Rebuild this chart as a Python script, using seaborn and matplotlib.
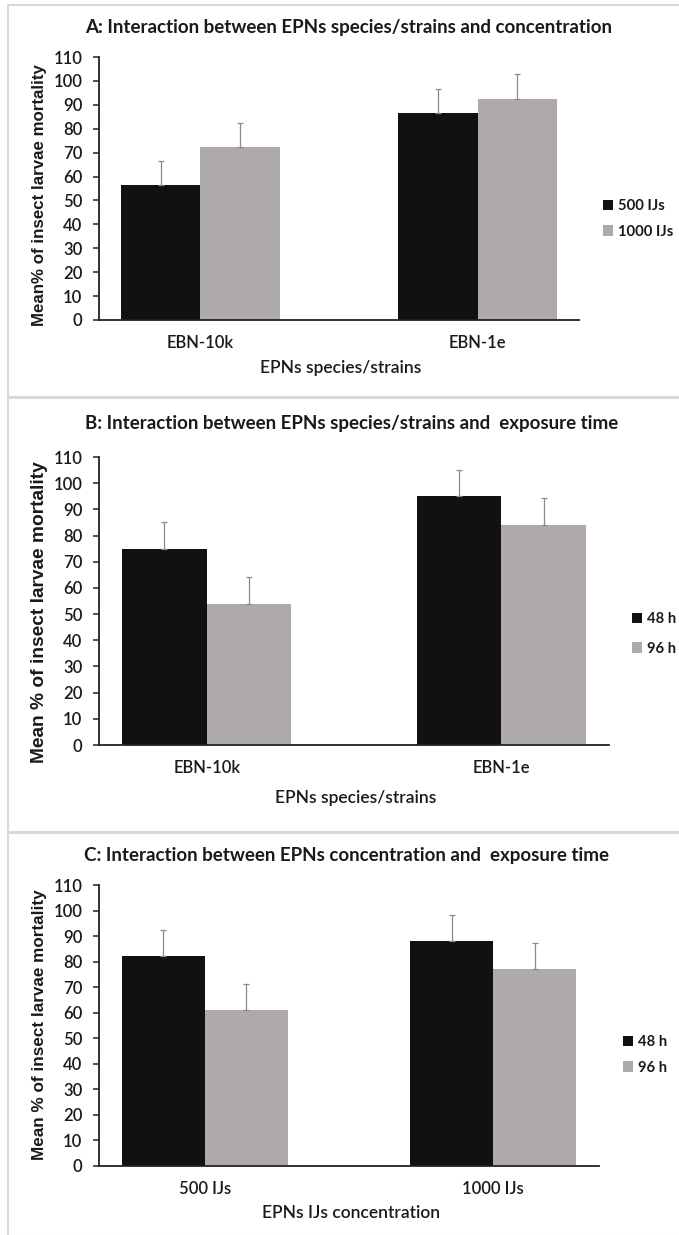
import numpy as np
import pandas as pd
import matplotlib
matplotlib.use("Agg")
import matplotlib.pyplot as plt
from matplotlib.patches import Rectangle, Patch
import seaborn as sns

# data
strains = ["EBN-10k", "EBN-1e"]
concentrations = ["500 IJs", "1000 IJs"]
times = ["48 h", "96 h"]

a_500 = [56.5, 86.5]
a_1000 = [72.2, 92.5]
a_err_500 = [10.2, 10.2]
a_err_1000 = [10.2, 10.5]

b_48 = [75.0, 95.1]
b_96 = [53.9, 84.0]
b_err_48 = [10.0, 10.0]
b_err_96 = [10.3, 10.2]

c_48 = [82.3, 88.2]
c_96 = [61.1, 77.2]
c_err_48 = [10.2, 9.9]
c_err_96 = [10.1, 10.2]

W, H = 679, 1235
BLACK = "#111111"
GREY = "#aeaaaa"
TXT = "#1a1a1a"

sns.set_theme(style="white")
plt.rcParams["font.family"] = ["Lato", "DejaVu Sans"]


def make_df(groups, levels, v1, v2, e1, e2):
    return pd.DataFrame({
        "group": groups * 2,
        "series": [levels[0]] * len(groups) + [levels[1]] * len(groups),
        "value": v1 + v2,
        "err": e1 + e2,
    })


def add_axes_px(fig, x0, x1, ytop, ybot):
    return fig.add_axes([x0 / W, 1 - ybot / H, (x1 - x0) / W, (ybot - ytop) / H])


def draw_panel(fig, ax, df, groups, levels, title, title_xy, ylabel, ylab_xy,
               ylab_size, xlabel, xlab_xy, leg_xy, leg_space):
    sns.barplot(data=df, x="group", y="value", hue="series", order=groups,
                hue_order=levels, palette=[BLACK, GREY], saturation=1,
                width=0.575, errorbar=None, legend=False, linewidth=0, ax=ax)
    for cont, lev in zip(ax.containers, levels):
        sub = df[df["series"] == lev].set_index("group").loc[groups]
        xs = [b.get_x() + b.get_width() / 2 for b in cont]
        ax.errorbar(xs, sub["value"], yerr=[np.zeros(len(xs)), sub["err"]],
                    fmt="none", ecolor="#8a8a8a", elinewidth=0.9,
                    capsize=2.5, capthick=0.9, zorder=3)
    ax.set_ylim(0, 110)
    ax.set_yticks(range(0, 111, 10))
    ax.set_xlabel("")
    ax.set_ylabel("")
    sns.despine(ax=ax)
    for s in ["left", "bottom"]:
        ax.spines[s].set_color("#222222")
        ax.spines[s].set_linewidth(1.3)
    ax.tick_params(axis="y", left=True, length=4, width=1.1, color="#222222",
                   pad=8, labelsize=12, labelcolor=TXT)
    ax.tick_params(axis="x", bottom=False, length=0, pad=11, labelsize=12,
                   labelcolor=TXT)
    for lab in ax.get_xticklabels() + ax.get_yticklabels():
        lab.set_fontweight("semibold")

    fig.text(title_xy[0] / W, 1 - title_xy[1] / H, title, ha="center",
             va="center", fontsize=13.5, fontweight="bold", color=TXT)
    fig.text(ylab_xy[0] / W, 1 - ylab_xy[1] / H, ylabel, ha="center",
             va="center", rotation=90, fontsize=ylab_size, fontweight="bold",
             family=["Liberation Sans", "DejaVu Sans"], color=TXT)
    fig.text(xlab_xy[0] / W, 1 - xlab_xy[1] / H, xlabel, ha="center",
             va="center", fontsize=12.5, fontweight="semibold", color=TXT)

    handles = [Patch(facecolor=BLACK, edgecolor="none"),
               Patch(facecolor=GREY, edgecolor="none")]
    fig.legend(handles, levels, loc="center left",
               bbox_to_anchor=(leg_xy[0] / W, 1 - leg_xy[1] / H),
               frameon=False, borderpad=0, borderaxespad=0,
               handlelength=0.7, handleheight=0.7, handletextpad=0.3,
               labelspacing=leg_space,
               prop={"size": 10.6, "weight": "bold"}, labelcolor=TXT)


fig = plt.figure(figsize=(W / 100, H / 100), dpi=100)

# panel frames
for y0, y1 in [(5, 397), (398, 832), (833, 1236)]:
    fig.add_artist(Rectangle((8 / W, 1 - y1 / H), (W - 8) / W + 0.01,
                             (y1 - y0) / H, transform=fig.transFigure,
                             fill=False, ec="#d9d9d9", lw=1.5))

ax_a = add_axes_px(fig, 99, 579, 57, 320)
df_a = make_df(strains, concentrations, a_500, a_1000, a_err_500, a_err_1000)
draw_panel(fig, ax_a, df_a, strains, concentrations,
           "A: Interaction between EPNs species/strains and concentration",
           (349, 28), "Mean% of insect larvae mortality", (40, 195), 12.2,
           "EPNs species/strains", (341, 368), (603, 219), 0.75)

ax_b = add_axes_px(fig, 99, 609, 457, 745)
df_b = make_df(strains, times, b_48, b_96, b_err_48, b_err_96)
draw_panel(fig, ax_b, df_b, strains, times,
           "B: Interaction between EPNs species/strains and  exposure time",
           (352, 423), "Mean % of insect larvae mortality", (40, 612), 13.8,
           "EPNs species/strains", (356, 798), (632, 634), 1.05)

ax_c = add_axes_px(fig, 99, 599, 885, 1166)
df_c = make_df(concentrations, times, c_48, c_96, c_err_48, c_err_96)
draw_panel(fig, ax_c, df_c, concentrations, times,
           "C: Interaction between EPNs concentration and  exposure time",
           (347, 855), "Mean % of insect larvae mortality", (40, 1025), 12.3,
           "EPNs IJs concentration", (351, 1213), (623, 1055), 0.75)

fig.savefig("out.png", dpi=100)
